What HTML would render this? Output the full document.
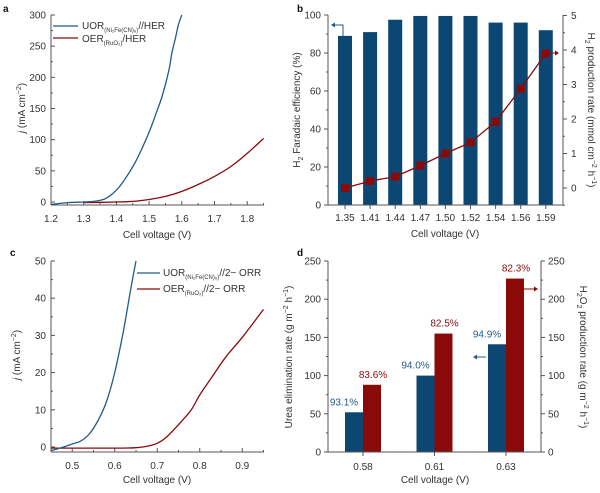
<!DOCTYPE html>
<html><head><meta charset="utf-8"><style>
body{margin:0;background:#fff;width:600px;height:488px;overflow:hidden}
svg{font-family:"Liberation Sans",sans-serif;font-size:10px;fill:#333}
</style></head><body>
<svg id="s" width="600" height="488" viewBox="0 0 600 488"></svg>
<script>
const aUorV=[1.2,1.25,1.3,1.33,1.36,1.38,1.4,1.42,1.44,1.46,1.48,1.5,1.52,1.54,1.56,1.57,1.58,1.59,1.6];
const aUorJ=[-4,-1,0,1,4,10,19,32,48,66,88,112,140,170,210,240,262,285,300];
const aOerV=[1.3,1.4,1.45,1.5,1.55,1.6,1.65,1.7,1.75,1.8,1.85];
const aOerJ=[-1,0,1,4,9,17,28,41,57,78,102];
const bCats=["1.35","1.41","1.44","1.47","1.50","1.52","1.54","1.56","1.59"];
const bFE=[89,91,97.5,99.5,99.5,99.5,96,96,92];
const bRate=[0,0.2,0.33,0.65,1.0,1.32,1.92,2.88,3.9];
const cUorV=[0.45,0.48,0.5,0.52,0.54,0.56,0.58,0.6,0.62,0.64,0.65];
const cUorJ=[-1,0,0.8,1.6,3.5,7,12,20,31,44,50];
const cOerV=[0.45,0.6,0.65,0.68,0.7,0.72,0.75,0.78,0.8,0.83,0.86,0.9,0.95];
const cOerJ=[-0.3,-0.3,-0.2,0.3,1,2.5,6,10,14,19,24,29.5,37];
const dCats=["0.58","0.61","0.63"];
const dUrea=[52,100,141];
const dH2O2=[88,155,227];
const dUreaFE=["93.1%","94.0%","94.9%"];
const dH2O2FE=["83.6%","82.5%","82.3%"];
const BLUE="#0b4772",RED="#8a0a0a",LBLUE="#235a88";
const S=document.getElementById('s');
function el(t,a,txt){const e=document.createElementNS("http://www.w3.org/2000/svg",t);for(const k in a)e.setAttribute(k,a[k]);if(txt!=null)e.textContent=txt;S.appendChild(e);return e;}
function line(x1,y1,x2,y2,c,w){return el('line',{x1,y1,x2,y2,stroke:c||'#555','stroke-width':w||1});}
function path(xs,ys,fx,fy,c,name,smooth){const P=xs.map((v,i)=>[fx(v),fy(ys[i])]);let d='M'+P[0][0].toFixed(1)+','+P[0][1].toFixed(1);
 for(let i=0;i<P.length-1;i++){if(!smooth){d+='L'+P[i+1][0].toFixed(1)+','+P[i+1][1].toFixed(1);continue;}
  const p0=P[Math.max(0,i-1)],p1=P[i],p2=P[i+1],p3=P[Math.min(P.length-1,i+2)];
  const c1=[p1[0]+(p2[0]-p0[0])/6,p1[1]+(p2[1]-p0[1])/6],c2=[p2[0]-(p3[0]-p1[0])/6,p2[1]-(p3[1]-p1[1])/6];
  d+='C'+c1.map(v=>v.toFixed(1))+' '+c2.map(v=>v.toFixed(1))+' '+p2.map(v=>v.toFixed(1));}
 const p=el('path',{d,fill:'none',stroke:c,'stroke-width':1.3});return p;}
function lab(x,y,t,name,anchor,extra){const e=el('text',Object.assign({x,y,'text-anchor':anchor||'middle'},extra||{}),t);return e;}
function panelLetter(x,y,t){lab(x,y,t,'panel-label-'+t,'start',{'font-weight':'bold','font-size':'10px',fill:'#111'});}
// ---- Panel a
panelLetter(3,12,'a');
{const fx=v=>51+(v-1.2)*327,fy=v=>202-v*0.6233;
 line(51,15,51,205);line(51,205,264,205);
 [0,50,100,150,200,250,300].forEach(v=>{line(51,fy(v),55,fy(v));lab(46,fy(v)+3.5,v,'a-y-tick','end');});
 [25,75,125,175,225,275].forEach(v=>line(51,fy(v),53,fy(v)));
 [1.2,1.3,1.4,1.5,1.6,1.7,1.8].forEach(v=>{line(fx(v),205,fx(v),201);lab(fx(v),222,v.toFixed(1),'a-x-tick');});
 [1.25,1.35,1.45,1.55,1.65,1.75,1.85].forEach(v=>line(fx(v),205,fx(v),203));
 lab(157,238,'Cell voltage (V)','a-x-axis-title');
 const t=lab(0,0,'','a-y-axis-title','middle',{transform:'translate(25,108) rotate(-90)'});t.innerHTML='<tspan font-style="italic">j</tspan> (mA cm<tspan dy="-4" font-size="7">−2</tspan><tspan dy="4">)</tspan>';
 path(aOerV,aOerJ,fx,fy,RED,'a-oer-curve',1);path(aUorV,aUorJ,fx,fy,LBLUE,'a-uor-curve',1);
 line(53,26,78,26,LBLUE,1.3);line(53,38,78,38,RED,1.3);
 let l=lab(82,29,'','a-legend-uor','start');l.innerHTML='UOR<tspan dy="3" font-size="6">(Ni₂Fe(CN)₆)</tspan><tspan dy="-3">//HER</tspan>';
 l=lab(82,42,'','a-legend-oer','start');l.innerHTML='OER<tspan dy="3" font-size="6">(RuO₂)</tspan><tspan dy="-3">/HER</tspan>';
}
// ---- Panel b
panelLetter(297,12,'b');
{const x0=328,x1=563,fx=i=>345+i*25.1,fy=v=>205-v*1.9,fr=v=>188-v*34.5;
 bCats.forEach((c,i)=>{const r=el('rect',{x:fx(i)-7,y:fy(bFE[i]),width:14,height:205-fy(bFE[i]),fill:BLUE});
  line(fx(i),205,fx(i),209);lab(fx(i),221,c,'b-x-tick');});
 line(x0,15,x0,205);line(x0,205,x1,205);line(x1,15,x1,205);
 [0,20,40,60,80,100].forEach(v=>{line(x0,fy(v),x0-4,fy(v));lab(x0-7,fy(v)+3.5,v,'b-y-left-tick','end');});
 [10,30,50,70,90].forEach(v=>line(x0,fy(v),x0-2,fy(v)));
 [0,1,2,3,4,5].forEach(v=>{line(x1,fr(v),x1+4,fr(v));lab(x1+8,fr(v)+3.5,v,'b-y-right-tick','start');});
 [-0.5,0.5,1.5,2.5,3.5,4.5].forEach(v=>line(x1,fr(v),x1+2,fr(v)));
 lab(445,237,'Cell voltage (V)','b-x-axis-title');
 let t=lab(0,0,'','b-y-left-title','middle',{transform:'translate(300,110) rotate(-90)'});t.innerHTML='H<tspan dy="3" font-size="7">2</tspan><tspan dy="-3"> Faradaic efficiency (%)</tspan>';
 t=lab(0,0,'','b-y-right-title','middle',{transform:'translate(588,110) rotate(90)'});t.innerHTML='H<tspan dy="3" font-size="7">2</tspan><tspan dy="-3"> production rate (mmol cm</tspan><tspan dy="-4" font-size="7">−2</tspan><tspan dy="4"> h</tspan><tspan dy="-4" font-size="7">−1</tspan><tspan dy="4">)</tspan>';
 path(bRate.map((v,i)=>i),bRate,fx,fr,RED,'b-rate-line',0);
 bRate.forEach((v,i)=>{const r=el('rect',{x:fx(i)-4,y:fr(v)-4,width:8,height:8,fill:RED});});
 el('path',{d:'M343,36V25H334',fill:'none',stroke:LBLUE,'stroke-width':1});el('path',{d:'M331,25l4,-2.5v5z',fill:LBLUE});
 el('path',{d:'M550,53H556',fill:'none',stroke:RED,'stroke-width':1});el('path',{d:'M559,53l-4,-2.5v5z',fill:RED});
}
// ---- Panel c
panelLetter(10,256,'c');
{const fx=v=>51+(v-0.45)*425,fy=v=>447-v*3.72;
 line(51,261,51,452);line(51,452,264,452);
 [0,10,20,30,40,50].forEach(v=>{line(51,fy(v),55,fy(v));lab(46,fy(v)+3.5,v,'c-y-tick','end');});
 [5,15,25,35,45].forEach(v=>line(51,fy(v),53,fy(v)));
 [0.5,0.6,0.7,0.8,0.9].forEach(v=>{line(fx(v),452,fx(v),448);lab(fx(v),469,v.toFixed(1),'c-x-tick');});
 [0.55,0.65,0.75,0.85,0.95].forEach(v=>line(fx(v),452,fx(v),450));
 lab(157,483,'Cell voltage (V)','c-x-axis-title');
 const t=lab(0,0,'','c-y-axis-title','middle',{transform:'translate(20,355) rotate(-90)'});t.innerHTML='<tspan font-style="italic">j</tspan> (mA cm<tspan dy="-4" font-size="7">−2</tspan><tspan dy="4">)</tspan>';
 path(cOerV,cOerJ,fx,fy,RED,'c-oer-curve',1);path(cUorV,cUorJ,fx,fy,LBLUE,'c-uor-curve',1);
 line(137,273,160,273,LBLUE,1.3);line(137,289,160,289,RED,1.3);
 let l=lab(163,276,'','c-legend-uor','start');l.innerHTML='UOR<tspan dy="3" font-size="6">(Ni₂Fe(CN)₆)</tspan><tspan dy="-3">//2− ORR</tspan>';
 l=lab(163,292,'','c-legend-oer','start');l.innerHTML='OER<tspan dy="3" font-size="6">(RuO₂)</tspan><tspan dy="-3">//2− ORR</tspan>';
}
// ---- Panel d
panelLetter(297,256,'d');
{const x0=328,x1=541,fx=i=>363+i*71.5,fy=v=>452-v*0.764;
 dCats.forEach((c,i)=>{let r=el('rect',{x:fx(i)-18,y:fy(dUrea[i]),width:18,height:452-fy(dUrea[i]),fill:BLUE});
  r=el('rect',{x:fx(i),y:fy(dH2O2[i]),width:18,height:452-fy(dH2O2[i]),fill:RED});
  lab(fx(i)-19,fy(dUrea[i])-7,dUreaFE[i],'d-urea-fe-label','middle',{fill:LBLUE});
  lab(fx(i)+10,fy(dH2O2[i])-7,dH2O2FE[i],'d-h2o2-fe-label','middle',{fill:RED});
  line(fx(i),452,fx(i),456);lab(fx(i),470,c,'d-x-tick');});
 line(x0,261,x0,452);line(x0,452,x1,452);line(x1,261,x1,452);
 [0,50,100,150,200,250].forEach(v=>{line(x0,fy(v),x0-4,fy(v));lab(x0-7,fy(v)+3.5,v,'d-y-left-tick','end');line(x1,fy(v),x1+4,fy(v));lab(x1+7,fy(v)+3.5,v,'d-y-right-tick','start');});
 [25,75,125,175,225].forEach(v=>{line(x0,fy(v),x0-2,fy(v));line(x1,fy(v),x1+2,fy(v));});
 lab(435,483,'Cell voltage (V)','d-x-axis-title');
 let t=lab(0,0,'','d-y-left-title','middle',{transform:'translate(292,357) rotate(-90)'});t.innerHTML='Urea elimination rate (g m<tspan dy="-4" font-size="7">−2</tspan><tspan dy="4"> h</tspan><tspan dy="-4" font-size="7">−1</tspan><tspan dy="4">)</tspan>';
 t=lab(0,0,'','d-y-right-title','middle',{transform:'translate(580,357) rotate(90)'});t.innerHTML='H<tspan dy="3" font-size="7">2</tspan><tspan dy="-3">O</tspan><tspan dy="3" font-size="7">2</tspan><tspan dy="-3"> production rate (g m</tspan><tspan dy="-4" font-size="7">−2</tspan><tspan dy="4"> h</tspan><tspan dy="-4" font-size="7">−1</tspan><tspan dy="4">)</tspan>';
 el('path',{d:'M476,357H486',fill:'none',stroke:LBLUE});el('path',{d:'M473,357l4,-2.5v5z',fill:LBLUE});
 el('path',{d:'M523,289H534',fill:'none',stroke:RED});el('path',{d:'M538,289l-4,-2.5v5z',fill:RED});
}
</script>
</body></html>
